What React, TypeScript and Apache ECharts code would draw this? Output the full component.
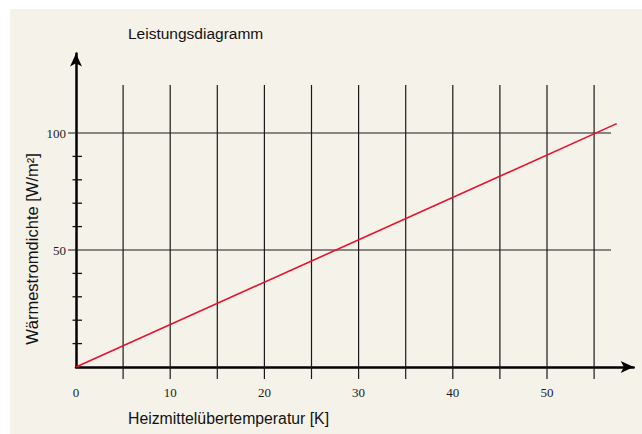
import React, { useEffect, useRef } from "react";
import * as echarts from "echarts";

const titleText = "Leistungsdiagramm";
const xName = "Heizmittelübertemperatur [K]";
const yName = "Wärmestromdichte [W/m²]";

const xLabelValues = [0, 10, 20, 30, 40, 50];
const yLabelValues = [50, 100];
const vGridX = [5, 10, 15, 20, 25, 30, 35, 40, 45, 50, 55];
const hGridY = [50, 100];
const minorTickY = [10, 20, 30, 40, 60, 70, 80, 90];

const lineX = [0, 57.4];
const lineY = [0, 104];

const X_MAX = 59.2;
const Y_MAX = 134;
const GRID_TOP_VALUE = 120.5;
const GRID_RIGHT_VALUE = 56.8;

export default function App() {
  const ref = useRef<HTMLDivElement>(null);
  useEffect(() => {
    if (!ref.current) return;
    const chart = echarts.init(ref.current, null, { renderer: "svg" });
    const sansFont = "Liberation Sans";
    const serifFont = "Liberation Serif";
    chart.setOption({
      animation: false,
      backgroundColor: "#ffffff",
      graphic: [
        {
          type: "rect",
          z: -10,
          silent: true,
          shape: { x: 10, y: 9, width: 640, height: 430 },
          style: { fill: "#f5f2ea" },
        },
        {
          type: "text",
          x: 128,
          y: 33,
          style: {
            text: titleText,
            font: `15.5px "${sansFont}"`,
            fill: "#111",
            align: "left",
            verticalAlign: "middle",
          },
        },
        {
          type: "text",
          x: 128,
          y: 418,
          style: {
            text: xName,
            font: `15.8px "${sansFont}"`,
            fill: "#111",
            align: "left",
            verticalAlign: "middle",
          },
        },
        {
          type: "text",
          x: 32,
          y: 249,
          rotation: Math.PI / 2,
          style: {
            text: yName,
            font: `16.5px "${sansFont}"`,
            fill: "#111",
            align: "center",
            verticalAlign: "middle",
          },
        },
      ],
      grid: { left: 76, right: 642 - 76 - X_MAX * 9.42, top: 367 - Y_MAX * 2.34, bottom: 67 },
      xAxis: {
        type: "value",
        min: 0,
        max: X_MAX,
        interval: 10,
        axisLine: {
          show: true,
          lineStyle: { color: "#000", width: 2.5 },
          symbol: ["none", "arrow"],
          symbolSize: [9, 13],
        },
        axisTick: { show: false },
        splitLine: { show: false },
        axisLabel: {
          margin: 19,
          color: "#1a1a1a",
          fontFamily: serifFont,
          fontSize: 13,
          showMaxLabel: false,
          formatter: (v: number) => (xLabelValues.includes(v) ? String(v) : ""),
        },
      },
      yAxis: {
        type: "value",
        min: 0,
        max: Y_MAX,
        interval: 10,
        axisLine: {
          show: true,
          lineStyle: { color: "#000", width: 2.5 },
          symbol: ["none", "arrow"],
          symbolSize: [9, 13],
        },
        axisTick: { show: false },
        splitLine: { show: false },
        axisLabel: {
          margin: 10,
          color: "#1a1a1a",
          fontFamily: serifFont,
          fontSize: 13,
          showMaxLabel: false,
          formatter: (v: number) => (yLabelValues.includes(v) ? String(v) : ""),
        },
      },
      series: [
        {
          type: "custom",
          silent: true,
          z: 1,
          data: vGridX.map((x) => [x]),
          renderItem: (params: any, api: any) => {
            const x = api.value(0);
            const top = api.coord([x, GRID_TOP_VALUE]);
            const bottom = api.coord([x, 0]);
            return {
              type: "line",
              shape: { x1: top[0], y1: top[1], x2: top[0], y2: bottom[1] + 12 },
              style: { stroke: "#1a1a1a", lineWidth: 1.2 },
            };
          },
        },
        {
          type: "custom",
          silent: true,
          z: 1,
          data: hGridY.map((y) => [y]),
          renderItem: (params: any, api: any) => {
            const y = api.value(0);
            const left = api.coord([0, y]);
            const right = api.coord([GRID_RIGHT_VALUE, y]);
            return {
              type: "line",
              shape: { x1: left[0] - 8, y1: left[1], x2: right[0], y2: left[1] },
              style: { stroke: "#1a1a1a", lineWidth: 1.2 },
            };
          },
        },
        {
          type: "custom",
          silent: true,
          z: 1,
          data: minorTickY.map((y) => [y]),
          renderItem: (params: any, api: any) => {
            const y = api.value(0);
            const p = api.coord([0, y]);
            return {
              type: "line",
              shape: { x1: p[0] - 3.5, y1: p[1], x2: p[0] + 6, y2: p[1] },
              style: { stroke: "#111", lineWidth: 1.3 },
            };
          },
        },
        {
          type: "line",
          z: 3,
          data: lineX.map((x, i) => [x, lineY[i]]),
          showSymbol: false,
          symbol: "none",
          lineStyle: { color: "#e8112d", width: 1.6 },
        },
      ],
    });
    return () => chart.dispose();
  }, []);
  return (
    <div
      ref={ref}
      style={{ position: "fixed", left: 0, top: 0, width: 642, height: 434 }}
    />
  );
}
